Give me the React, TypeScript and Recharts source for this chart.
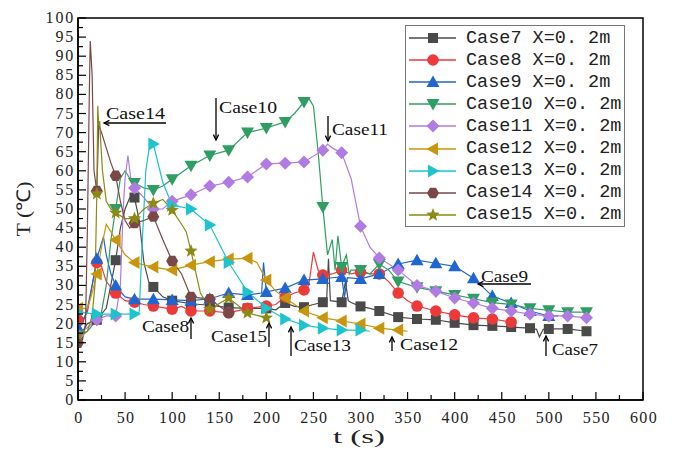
import React from 'react';
import { LineChart, Line, XAxis, YAxis, Legend } from 'recharts';

// time (s) and temperature (°C) per case
const case7T = [0, 5, 10, 20, 30, 40, 45, 50, 55, 60, 65, 70, 75, 80, 90, 100, 120, 140, 160, 180, 200, 210, 220, 230, 240, 250, 260, 264, 266, 268, 280, 284, 287, 290, 300, 310, 320, 340, 360, 380, 400, 420, 440, 460, 480, 487, 490, 494, 500, 520, 540];
const case7V = [17, 18, 20, 21, 24, 36.6, 45, 50, 53, 53, 47, 36, 31, 29.6, 27, 26, 25.2, 24.8, 24.2, 24, 24, 23.6, 25.4, 24.5, 24.3, 25, 25.6, 26, 37, 26, 25.6, 31, 26, 25.5, 24.5, 24, 23.3, 21.7, 21.2, 21, 20.2, 19.6, 19.4, 19.1, 18.8, 18.5, 16.5, 18.5, 18.6, 18.6, 18];

const case8T = [0, 5, 10, 15, 20, 25, 30, 40, 50, 60, 70, 80, 90, 100, 110, 120, 140, 160, 180, 200, 210, 220, 230, 240, 245, 250, 255, 260, 270, 280, 290, 300, 310, 320, 330, 340, 350, 360, 380, 400, 420, 440, 460];
const case8V = [21, 21, 23, 30, 36, 35, 31, 28, 26, 25.6, 25, 24.6, 24.2, 23.8, 24.5, 23.3, 23.3, 22.8, 24, 24.6, 25, 27, 28, 28.8, 30, 38.7, 34, 32.7, 33, 34, 33, 33.5, 33, 33, 31, 28, 26, 24.6, 23.3, 22.3, 21.5, 21.2, 20.4];

const case9T = [0, 5, 10, 15, 20, 27, 30, 35, 40, 50, 60, 80, 100, 120, 140, 160, 180, 195, 197, 200, 220, 240, 260, 270, 280, 283, 286, 300, 320, 340, 360, 380, 400, 420, 440, 460, 480, 500, 510];
const case9V = [19, 20, 24, 30, 37, 42.7, 38, 33, 30, 27, 26.4, 26.4, 26.2, 26, 26.5, 28, 27.5, 28, 36, 28.3, 29.3, 31.4, 31.7, 32, 32.2, 27, 32, 31.7, 33, 35.6, 36.6, 35.8, 35, 31.9, 27.2, 25.4, 23.3, 22, 22];

const case10T = [0, 10, 20, 25, 30, 35, 40, 45, 50, 55, 60, 70, 80, 90, 100, 120, 140, 160, 180, 200, 220, 230, 240, 245, 250, 255, 260, 265, 270, 273, 276, 280, 285, 288, 290, 300, 310, 320, 330, 340, 360, 380, 400, 420, 440, 460, 480, 500, 520, 540];
const case10V = [17, 18, 21, 23, 30, 42, 50, 58, 60, 58, 56.8, 55.5, 55, 56, 57.8, 61.3, 64, 65.4, 70, 71.2, 72.8, 75, 78, 79, 77, 65, 50.5, 38, 42, 34, 43, 34.8, 38, 33, 34, 34, 33, 35.6, 34, 31, 29.5, 28.5, 27.5, 26.5, 25.5, 25, 24, 23.5, 23, 23];

const case11T = [0, 10, 20, 30, 40, 45, 48, 50, 53, 56, 60, 70, 80, 90, 100, 120, 140, 160, 180, 200, 220, 240, 260, 265, 270, 280, 290, 300, 310, 320, 340, 360, 380, 400, 420, 440, 460, 480, 500, 520, 540];
const case11V = [17, 19, 21, 22, 22, 30, 50, 58, 64, 58, 55.5, 53, 50, 50, 52, 53.7, 56, 57, 58.4, 61.8, 62, 62.3, 65.4, 67, 66, 64.7, 58, 45.5, 40, 37.2, 34, 30, 28.5, 26.7, 25.4, 24, 23.3, 22.5, 22, 22, 21.5];

const case12T = [0, 10, 15, 20, 25, 30, 35, 40, 50, 60, 80, 100, 120, 140, 160, 180, 190, 200, 210, 220, 240, 260, 280, 300, 320, 340, 350];
const case12V = [24, 24, 28, 33, 40, 46, 44, 41.9, 38, 36, 34.8, 34, 35.3, 36.2, 36.9, 37.1, 36, 31.4, 28.5, 26.7, 23.3, 21.5, 20.7, 19.9, 18.8, 18.3, 18];

const case13T = [0, 20, 40, 60, 65, 68, 72, 75, 78, 80, 90, 100, 120, 140, 160, 180, 200, 220, 240, 260, 280, 300, 310];
const case13V = [23, 22.5, 22.5, 22.5, 23, 40, 60, 65, 68, 67, 57, 51, 50, 45.8, 36, 28.3, 24, 21.2, 19.6, 18.8, 18.3, 18.3, 18];

const case14T = [0, 5, 8, 10, 12, 13, 15, 17, 20, 22, 25, 30, 35, 40, 45, 50, 55, 60, 70, 80, 90, 100, 110, 120, 140, 160, 165];
const case14V = [15, 16, 20, 45, 80, 94, 85, 60, 54.7, 72, 70, 66, 62, 58.7, 52, 47, 45, 46.3, 47, 48, 42, 36.4, 33, 27, 26.4, 22.8, 22.5];

const case15T = [0, 5, 10, 15, 18, 20, 21, 22, 23, 24, 26, 30, 35, 40, 50, 60, 70, 80, 90, 100, 110, 115, 120, 130, 140, 160, 180, 200];
const case15V = [17, 17, 18, 22, 30, 54, 77, 72, 73, 68, 60, 52, 50, 49, 47.5, 47.5, 50, 51.5, 52.5, 49.7, 46, 44, 39, 28, 23.8, 26.7, 22.8, 21.5];

const xTicks = Array.from({ length: 25 }, (_, i) => i * 25);
const yTicks = Array.from({ length: 41 }, (_, i) => i * 2.5);

type Shape = 'square' | 'circle' | 'up' | 'down' | 'diamond' | 'left' | 'right' | 'hex' | 'star';

const zip = (t: number[], v: number[]) => t.map((x, i) => ({ t: x, v: v[i] }));

const series: { name: string; data: { t: number; v: number }[]; color: string; shape: Shape }[] = [
  { name: 'Case7', data: zip(case7T, case7V), color: '#4a4a4a', shape: 'square' },
  { name: 'Case8', data: zip(case8T, case8V), color: '#ec3a3a', shape: 'circle' },
  { name: 'Case9', data: zip(case9T, case9V), color: '#1f66d0', shape: 'up' },
  { name: 'Case10', data: zip(case10T, case10V), color: '#2f9e63', shape: 'down' },
  { name: 'Case11', data: zip(case11T, case11V), color: '#b07be2', shape: 'diamond' },
  { name: 'Case12', data: zip(case12T, case12V), color: '#c8950c', shape: 'left' },
  { name: 'Case13', data: zip(case13T, case13V), color: '#1ec3cc', shape: 'right' },
  { name: 'Case14', data: zip(case14T, case14V), color: '#7a4848', shape: 'hex' },
  { name: 'Case15', data: zip(case15T, case15V), color: '#8a8a14', shape: 'star' },
];

const notes = [
  { label: 'Case14', x: 106, y: 119, w: 59, a: [166, 123, 104, 123] },
  { label: 'Case10', x: 219, y: 113, w: 58, a: [216, 98, 216, 140] },
  { label: 'Case11', x: 332, y: 135, w: 56, a: [328, 116, 328, 141] },
  { label: 'Case9', x: 481, y: 282, w: 47, a: [531, 284, 478, 284] },
  { label: 'Case8', x: 142, y: 332, w: 47, a: [191, 339, 191, 318] },
  { label: 'Case15', x: 211, y: 342, w: 56, a: [269, 347, 269, 323] },
  { label: 'Case13', x: 294, y: 351, w: 57, a: [291, 356, 291, 327] },
  { label: 'Case12', x: 400, y: 350, w: 58, a: [392, 351, 392, 337] },
  { label: 'Case7', x: 552, y: 355, w: 46, a: [546, 356, 546, 336] },
];

const SERIF = '"Liberation Serif", "Times New Roman", serif';

function Marker({ cx, cy, shape, color }: { cx: number; cy: number; shape: Shape; color: string }) {
  const r = 6.5;
  switch (shape) {
    case 'square':
      return <rect x={cx - 5} y={cy - 5} width={10} height={10} fill={color} />;
    case 'circle':
      return <circle cx={cx} cy={cy} r={5.8} fill={color} />;
    case 'up':
      return <polygon points={`${cx},${cy - r} ${cx + r},${cy + 5} ${cx - r},${cy + 5}`} fill={color} />;
    case 'down':
      return <polygon points={`${cx},${cy + r} ${cx + r},${cy - 5} ${cx - r},${cy - 5}`} fill={color} />;
    case 'left':
      return <polygon points={`${cx - r},${cy} ${cx + 5},${cy - r} ${cx + 5},${cy + r}`} fill={color} />;
    case 'right':
      return <polygon points={`${cx + r},${cy} ${cx - 5},${cy - r} ${cx - 5},${cy + r}`} fill={color} />;
    case 'diamond':
      return <polygon points={`${cx},${cy - r} ${cx + r},${cy} ${cx},${cy + r} ${cx - r},${cy}`} fill={color} />;
    case 'hex': {
      const pts = Array.from({ length: 6 }, (_, i) => {
        const a = (Math.PI / 3) * i;
        return `${cx + 6 * Math.cos(a)},${cy + 6 * Math.sin(a)}`;
      }).join(' ');
      return <polygon points={pts} fill={color} />;
    }
    case 'star': {
      const pts = Array.from({ length: 10 }, (_, i) => {
        const a = -Math.PI / 2 + (Math.PI / 5) * i;
        const rr = i % 2 === 0 ? 7 : 3;
        return `${cx + rr * Math.cos(a)},${cy + rr * Math.sin(a)}`;
      }).join(' ');
      return <polygon points={pts} fill={color} />;
    }
  }
  return null;
}

const YTick = (props: any) => {
  const { x, y, payload } = props;
  const v = payload.value as number;
  const major = v % 5 === 0;
  return (
    <g>
      <line x1={x} x2={x + (major ? 8 : 5)} y1={y} y2={y} stroke="#000" strokeWidth={1.2} />
      {major && (
        <text x={x - 3} y={y} dy={5} textAnchor="end" fontFamily={SERIF} fontSize={16} letterSpacing={1.8} fill="#222">
          {v}
        </text>
      )}
    </g>
  );
};

const XTick = (props: any) => {
  const { x, y, payload } = props;
  const v = payload.value as number;
  const major = v % 50 === 0;
  return (
    <g>
      <line x1={x} x2={x} y1={y} y2={y - (major ? 8 : 5)} stroke="#000" strokeWidth={1.2} />
      {major && (
        <text x={x + 1} y={y + 23} textAnchor="middle" fontFamily={SERIF} fontSize={16} letterSpacing={1.4} fill="#222">
          {v}
        </text>
      )}
    </g>
  );
};

const LegendBox = () => (
  <div
    style={{
      border: '1px solid #777',
      background: '#fff',
      width: 218,
      paddingTop: 1,
      fontFamily: '"Liberation Mono", "DejaVu Sans Mono", monospace',
      fontSize: 18.5,
      color: '#222',
    }}
  >
    {series.map((s) => (
      <div key={s.name} style={{ display: 'flex', alignItems: 'center', height: 22.1 }}>
        <svg width={60} height={20} style={{ flex: 'none' }}>
          <line x1={3} x2={50} y1={10} y2={10} stroke={s.color} strokeWidth={1.3} />
          <Marker cx={27} cy={10} shape={s.shape} color={s.color} />
        </svg>
        <span style={{ whiteSpace: 'pre' }}>{`${s.name} X=0. 2m`}</span>
      </div>
    ))}
  </div>
);

function Arrow({ a }: { a: number[] }) {
  const [x1, y1, x2, y2] = a;
  const ang = Math.atan2(y2 - y1, x2 - x1);
  const h = 6;
  const p1 = [x2 - h * Math.cos(ang - 0.45), y2 - h * Math.sin(ang - 0.45)];
  const p2 = [x2 - h * Math.cos(ang + 0.45), y2 - h * Math.sin(ang + 0.45)];
  return (
    <g stroke="#000" strokeWidth={1.3} fill="none">
      <line x1={x1} y1={y1} x2={x2} y2={y2} />
      <polyline points={`${p1[0]},${p1[1]} ${x2},${y2} ${p2[0]},${p2[1]}`} />
    </g>
  );
}

export default function App() {
  return (
    <div style={{ position: 'absolute', left: 0, top: 0, width: 673, height: 451, background: '#fff' }}>
      <LineChart width={673} height={451} margin={{ top: 18, right: 30, bottom: 21, left: 38 }}>
        <XAxis
          dataKey="t"
          type="number"
          domain={[0, 600]}
          ticks={xTicks}
          interval={0}
          height={30}
          tickSize={0}
          tickMargin={0}
          tickLine={false}
          tick={<XTick />}
          axisLine={{ stroke: '#000', strokeWidth: 1.5 }}
          allowDataOverflow
        />
        <YAxis
          type="number"
          domain={[0, 100]}
          ticks={yTicks}
          interval={0}
          width={40}
          tickSize={0}
          tickMargin={0}
          tickLine={false}
          tick={<YTick />}
          axisLine={{ stroke: '#000', strokeWidth: 1.5 }}
          allowDataOverflow
        />
        <Legend
          layout="horizontal"
          verticalAlign="middle"
          align="center"
          content={<LegendBox />}
          wrapperStyle={{ position: 'absolute', top: 25, left: 405, width: 220, height: 'auto' }}
        />
        {series.map((s) => (
          <Line
            key={s.name}
            data={s.data}
            dataKey="v"
            name={s.name}
            type="linear"
            stroke={s.color}
            strokeWidth={1.2}
            isAnimationActive={false}
            activeDot={false}
            dot={(p: any) =>
              p.payload && p.payload.t % 20 === 0 ? (
                <g key={`${s.name}-${p.index}`}>
                  <Marker cx={p.cx} cy={p.cy} shape={s.shape} color={s.color} />
                </g>
              ) : (
                <g key={`${s.name}-${p.index}`} />
              )
            }
          />
        ))}
      </LineChart>
      <svg width={673} height={451} style={{ position: 'absolute', left: 0, top: 0, pointerEvents: 'none' }}>
        <rect x={78} y={18} width={565} height={382} fill="none" stroke="#000" strokeWidth={1.5} />
        {notes.map((n) => (
          <g key={n.label}>
            <text x={n.x} y={n.y} fontFamily={SERIF} fontSize={17} textLength={n.w} lengthAdjust="spacingAndGlyphs" fill="#111">
              {n.label}
            </text>
            <Arrow a={n.a} />
          </g>
        ))}
        <text
          x={24}
          y={209}
          transform="rotate(-90 24 209)"
          textAnchor="middle"
          dy={6}
          fontFamily={SERIF}
          fontSize={19}
          textLength={55}
          lengthAdjust="spacingAndGlyphs"
          fill="#222"
        >
          T (℃)
        </text>
        <text x={333} y={443} fontFamily={SERIF} fontSize={19} textLength={52} lengthAdjust="spacingAndGlyphs" fill="#222">
          t (s)
        </text>
      </svg>
    </div>
  );
}
